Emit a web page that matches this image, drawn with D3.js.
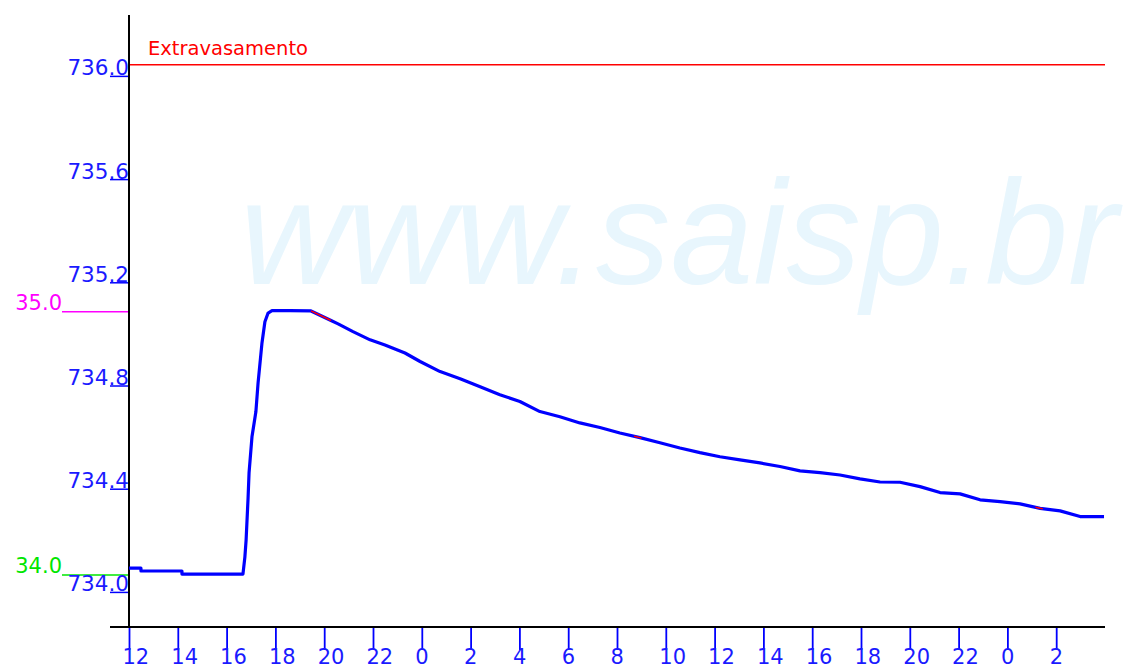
<!DOCTYPE html>
<html>
<head>
<meta charset="utf-8">
<script src="https://cdn.jsdelivr.net/npm/d3@7"></script>
<style>
  html, body { margin: 0; padding: 0; background: #ffffff; }
  svg { display: block; }
</style>
</head>
<body>
<svg id="chart" width="1131" height="669"></svg>
<script>
// ---- data (hours since 12:00 of first day, reservoir level in m) ----
const hours = [0, 0.49, 0.49, 2.17, 2.17, 4.67, 4.75, 4.80, 4.88, 4.92, 5.04, 5.20, 5.29, 5.45, 5.57, 5.70, 5.86, 6.60, 7.46,
  8.28, 8.57, 9.18, 9.88, 10.49, 11.31, 11.93, 12.75, 13.57, 14.39, 15.20, 16.02, 16.84, 17.66, 18.48, 19.30, 20.12, 20.94,
  21.76, 22.58, 23.40, 24.22, 25.04, 25.86, 26.68, 27.50, 28.32, 29.14, 29.96, 30.78, 31.60, 32.42, 33.24, 34.06, 34.88,
  35.70, 36.52, 37.34, 38.16, 38.98, 39.96];
const levels = [734.092, 734.092, 734.081, 734.081, 734.069, 734.069, 734.136, 734.202, 734.364, 734.461, 734.601, 734.698,
  734.810, 734.965, 735.047, 735.081, 735.090, 735.090, 735.089, 735.052, 735.039, 735.009, 734.977, 734.957, 734.926,
  734.893, 734.854, 734.826, 734.795, 734.764, 734.738, 734.699, 734.679, 734.655, 734.637, 734.616, 734.598, 734.578,
  734.558, 734.540, 734.524, 734.512, 734.500, 734.486, 734.469, 734.462, 734.453, 734.438, 734.426, 734.425, 734.408,
  734.385, 734.380, 734.357, 734.350, 734.341, 734.324, 734.314, 734.292, 734.292];
// stretches drawn in red (hour ranges)
const redRanges = [[7.46, 8.28], [20.7, 21.0], [37.15, 37.45]];

const yTicks = [734.0, 734.4, 734.8, 735.2, 735.6, 736.0];
const xTickHours = [0, 2, 4, 6, 8, 10, 12, 14, 16, 18, 20, 22, 24, 26, 28, 30, 32, 34, 36, 38];
const xTickLabels = ["12", "14", "16", "18", "20", "22", "0", "2", "4", "6", "8", "10", "12", "14", "16", "18", "20", "22", "0", "2"];

const overflowLevel = 736.043;
const overflowLabel = "Extravasamento";
const sideLevels = [735.086, 734.066];
const sideLabels = ["35.0", "34.0"];
const sideColors = ["#ff00ff", "#00e600"];
const watermark = "www.saisp.br";

// ---- layout ----
const svg = d3.select("#chart");
const x = d3.scaleLinear().domain([0, 40]).range([129, 1105]);
const y = d3.scaleLinear().domain([733.864, 736.236]).range([627, 15]);

// watermark
svg.append("text")
  .attr("x", 240).attr("y", 284)
  .attr("font-family", "Liberation Sans, Arial, sans-serif")
  .attr("font-style", "italic")
  .attr("font-size", 149)
  .attr("fill", "#e8f6fd")
  .text(watermark);

// overflow line
svg.append("line")
  .attr("x1", x(0)).attr("x2", x(40))
  .attr("y1", y(overflowLevel)).attr("y2", y(overflowLevel))
  .attr("stroke", "#ff0000").attr("stroke-width", 1.5);
svg.append("text")
  .attr("x", 148).attr("y", y(overflowLevel) - 10)
  .attr("font-family", "DejaVu Sans, sans-serif")
  .attr("font-size", 19.5)
  .attr("fill", "#ff0000")
  .text(overflowLabel);

// side reference levels
sideLevels.forEach((v, i) => {
  svg.append("line")
    .attr("x1", 62).attr("x2", x(0))
    .attr("y1", y(v)).attr("y2", y(v))
    .attr("stroke", sideColors[i]).attr("stroke-width", 1.5);
  svg.append("text")
    .attr("x", 62).attr("y", y(v) - 1.5)
    .attr("text-anchor", "end")
    .attr("font-family", "DejaVu Sans, sans-serif")
    .attr("font-size", 21)
    .attr("fill", sideColors[i])
    .text(sideLabels[i]);
});

// y axis
const yAxis = d3.axisLeft(y).tickValues(yTicks).tickSize(19).tickFormat(d3.format(".1f"));
const gy = svg.append("g").attr("transform", `translate(${x(0)},0)`).call(yAxis);
gy.select(".domain").remove();
gy.selectAll(".tick line").attr("stroke", "#0000ff").attr("stroke-width", 1.5);
gy.selectAll(".tick text")
  .attr("x", 0).attr("dy", null).attr("y", -1)
  .attr("text-anchor", "end")
  .attr("font-family", "DejaVu Sans, sans-serif")
  .attr("font-size", 21.5)
  .attr("fill", "#1a1aff");
svg.append("line")
  .attr("x1", x(0)).attr("x2", x(0)).attr("y1", 15).attr("y2", 628)
  .attr("stroke", "#000").attr("stroke-width", 2);

// x axis
const xAxis = d3.axisBottom(x).tickValues(xTickHours).tickSize(23)
  .tickFormat((d, i) => xTickLabels[i]);
const gx = svg.append("g").attr("transform", "translate(0,627)").call(xAxis);
gx.select(".domain").remove();
gx.selectAll(".tick line").attr("stroke", "#0000ff").attr("stroke-width", 1.8);
gx.selectAll(".tick text")
  .attr("x", -7).attr("y", 37).attr("dy", null)
  .attr("text-anchor", "start")
  .attr("font-family", "DejaVu Sans, sans-serif")
  .attr("font-size", 21)
  .attr("fill", "#1a1aff");
svg.append("line")
  .attr("x1", 110).attr("x2", x(40)).attr("y1", 627).attr("y2", 627)
  .attr("stroke", "#000").attr("stroke-width", 2);

// data line
const pts = hours.map((h, i) => [h, levels[i]]);
const line = d3.line().x(d => x(d[0])).y(d => y(d[1]));
svg.append("path")
  .datum(pts)
  .attr("d", line)
  .attr("fill", "none")
  .attr("stroke", "#0000ff")
  .attr("stroke-width", 3.2)
  .attr("stroke-linejoin", "round");

// red stretches
function valueAt(h) {
  for (let i = 1; i < hours.length; i++) {
    if (h <= hours[i]) {
      const t = (hours[i] - hours[i - 1]) === 0 ? 0 : (h - hours[i - 1]) / (hours[i] - hours[i - 1]);
      return levels[i - 1] + t * (levels[i] - levels[i - 1]);
    }
  }
  return levels[levels.length - 1];
}
redRanges.forEach(r => {
  const seg = [[r[0], valueAt(r[0])]];
  hours.forEach((h, i) => { if (h > r[0] && h < r[1]) seg.push([h, levels[i]]); });
  seg.push([r[1], valueAt(r[1])]);
  svg.append("path")
    .datum(seg)
    .attr("d", line)
    .attr("fill", "none")
    .attr("stroke", "#ff0000")
    .attr("stroke-width", 1.5);
});
</script>
</body>
</html>
